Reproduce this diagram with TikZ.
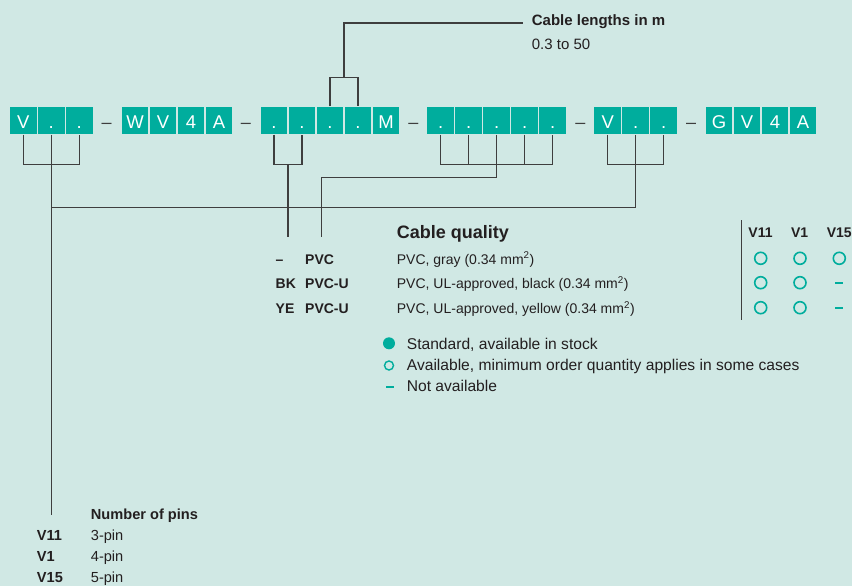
\documentclass[tikz,border=0pt]{standalone}
\usepackage{fontspec}
\setmainfont{Liberation Sans}
\definecolor{paper}{RGB}{208,232,228}
\definecolor{petrol}{RGB}{0,173,157}
\definecolor{ink}{RGB}{35,31,32}
\definecolor{lead}{RGB}{62,62,62}
\tikzset{
  digit/.style={fill=petrol,text=white,minimum width=26.7pt,minimum height=27.6pt,
    inner sep=0pt,text height=15.6pt,text depth=0pt,font=\fontsize{18.5}{18}\selectfont},
  sep/.style={anchor=base,inner sep=0pt,text=lead,font=\fontsize{18}{18}\selectfont},
  wire/.style={draw=lead,line width=1.1pt},
  txt/.style={anchor=base west,inner sep=0pt,text=ink,font=\fontsize{14}{16}\selectfont},
  txtb/.style={txt,font=\fontsize{14}{16}\selectfont\bfseries},
  avail/.style={circle,draw=petrol,line width=1.6pt,minimum size=#1,inner sep=0pt},
  avail/.default=12pt,
  stock/.style={circle,fill=petrol,minimum size=12pt,inner sep=0pt},
  none/.style={rectangle,fill=petrol,minimum width=8pt,minimum height=2.3pt,inner sep=0pt},
}
\begin{document}
\begin{tikzpicture}[x=1pt,y=-1pt]
        \useasboundingbox (0,0) rectangle (852,586);
        \fill[paper] (0,0) rectangle (852,586);
        % order code
        \foreach \t [count=\i] in {V,.,.} \node[digit] (a\i) at ({23.3+28*(\i-1)},120.5) {\t};
        \foreach \t [count=\i] in {W,V,4,A} \node[digit] (b\i) at ({135+28*(\i-1)},120.5) {\t};
        \foreach \t [count=\i] in {.,.,.,.,M} \node[digit] (c\i) at ({274+28*(\i-1)},120.5) {\t};
        \foreach \t [count=\i] in {.,.,.,.,.} \node[digit] (d\i) at ({440.7+28*(\i-1)},120.5) {\t};
        \foreach \t [count=\i] in {V,.,.} \node[digit] (e\i) at ({607.7+28*(\i-1)},120.5) {\t};
        \foreach \t [count=\i] in {G,V,4,A} \node[digit] (f\i) at ({719+28*(\i-1)},120.5) {\t};
        \node[sep] (s1) at (106.7,128.3) {–};
        \node[sep] (s2) at (245.8,128.3) {–};
        \node[sep] (s3) at (413.5,128.3) {–};
        \node[sep] (s4) at (580.3,128.3) {–};
        \node[sep] (s5) at (691.2,128.3) {–};

        % cable length
        \node[txtb,font=\fontsize{15}{17}\selectfont\bfseries] (lentitle) at (531.7,25.7) {Cable lengths in m};
        \node[txt,font=\fontsize{15}{17}\selectfont] (lenrange) at (531.7,49.3) {0.3 to 50};
        \coordinate (lenfork) at (344,77.3);
        \coordinate (lenend) at (522.7,23);
        \draw[wire] (c3.north) |- (c4.north |- lenfork) -- (c4.north);
        \draw[wire] (lenfork) |- (lenend);

        % cable quality
        \node[txtb,font=\fontsize{18}{20}\selectfont\bfseries] (qtitle) at (396.7,238.3) {Cable quality};
        \node[txtb] (k1) at (275.5,264) {–};
        \node[txtb] (k2) at (275.5,288.7) {BK};
        \node[txtb] (k3) at (275.5,313.4) {YE};
        \node[txtb] (m1) at (305,264) {PVC};
        \node[txtb] (m2) at (305,288.7) {PVC-U};
        \node[txtb] (m3) at (305,313.4) {PVC-U};
        \node[txt] (q1) at (396.7,264) {PVC, gray (0.34 mm\textsuperscript{2})};
        \node[txt] (q2) at (396.7,288.7) {PVC, UL-approved, black (0.34 mm\textsuperscript{2})};
        \node[txt] (q3) at (396.7,313.4) {PVC, UL-approved, yellow (0.34 mm\textsuperscript{2})};
        \coordinate (qa) at (288,236.7);
        \coordinate (qb) at (321.7,236.7);
        \draw[wire] (c1.south) |- (c2.south |- 0,164.3) -- (c2.south);
        \draw[wire] (qa |- 0,164.3) -- (qa);
        \draw[wire] (d1.south) |- (d5.south |- 0,164.3) -- (d5.south);
        \foreach \i in {2,4} \draw[wire] (d\i.south) -- (d\i.south |- 0,164.3);
        \draw[wire] (d3.south) |- (qb |- 0,177.7) -- (qb);

        % availability table
        \draw[lead,line width=1pt] (741,220) -- (741,320);
        \node[txtb,anchor=base] (h1) at (760.5,237.3) {V11};
        \node[txtb,anchor=base] (h2) at (799.7,237.3) {V1};
        \node[txtb,anchor=base] (h3) at (839.3,237.3) {V15};
        \node[avail] (o11) at (760.7,258.3) {};
        \node[avail] (o12) at (800,258.3) {};
        \node[avail] (o13) at (839.3,258.3) {};
        \node[avail] (o21) at (760.7,282.7) {};
        \node[avail] (o22) at (800,282.7) {};
        \node[none] (o23) at (839.3,282.7) {};
        \node[avail] (o31) at (760.7,307.7) {};
        \node[avail] (o32) at (800,307.7) {};
        \node[none] (o33) at (839.3,307.7) {};

        % legend
        \node[stock] (lg1) at (389,343.3) {};
        \node[avail=9pt,line width=1.4pt] (lg2) at (389,365.5) {};
        \node[none] (lg3) at (389.5,387) {};
        \node[txt,font=\fontsize{15.6}{17}\selectfont] (lt1) at (406.7,349) {Standard, available in stock};
        \node[txt,font=\fontsize{15.6}{17}\selectfont] (lt2) at (406.7,370.7) {Available, minimum order quantity applies in some cases};
        \node[txt,font=\fontsize{15.6}{17}\selectfont] (lt3) at (406.7,391.7) {Not available};

        % number of pins
        \coordinate (pinsend) at (51.3,515);
        \draw[wire] (a1.south) |- (a3.south |- 0,164.3) -- (a3.south);
        \draw[wire] (e1.south) |- (e3.south |- 0,164.3) -- (e3.south);
        \draw[wire] (a2.south) -- (pinsend);
        \draw[wire] (e2.south) |- (a2.south |- 0,207.3);
        \node[txtb,font=\fontsize{14.6}{16}\selectfont\bfseries] (ptitle) at (90.7,519) {Number of pins};
        \node[txtb,font=\fontsize{14.6}{16}\selectfont\bfseries] (p1) at (36.7,540.5) {V11};
        \node[txtb,font=\fontsize{14.6}{16}\selectfont\bfseries] (p2) at (36.7,561.3) {V1};
        \node[txtb,font=\fontsize{14.6}{16}\selectfont\bfseries] (p3) at (36.7,582) {V15};
        \node[txt,font=\fontsize{14.6}{16}\selectfont] (pn1) at (90.7,540.5) {3-pin};
        \node[txt,font=\fontsize{14.6}{16}\selectfont] (pn2) at (90.7,561.3) {4-pin};
        \node[txt,font=\fontsize{14.6}{16}\selectfont] (pn3) at (90.7,582) {5-pin};
\end{tikzpicture}
\end{document}
